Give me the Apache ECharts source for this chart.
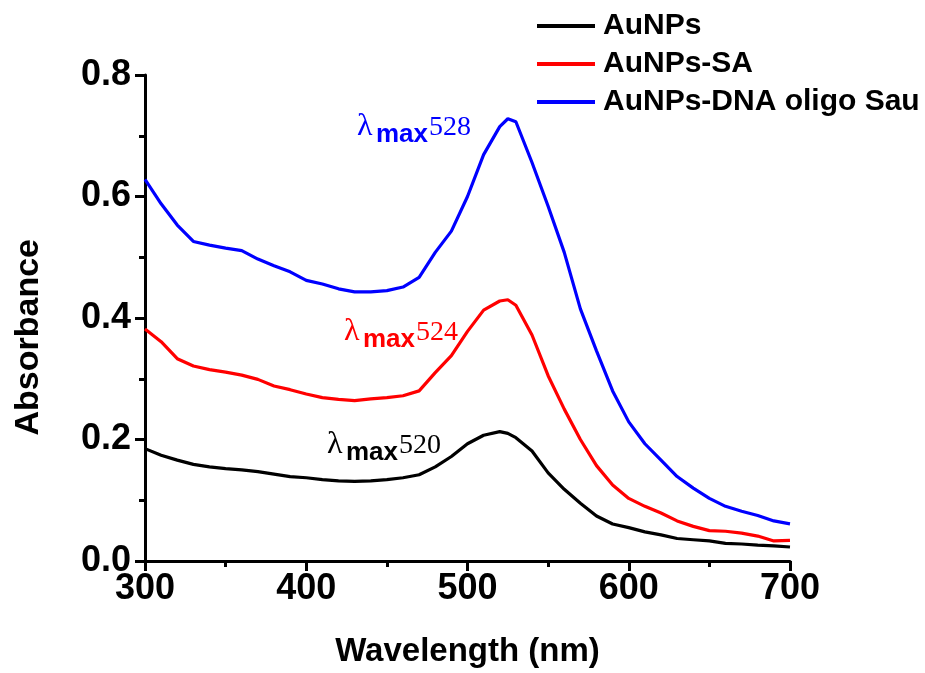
<!DOCTYPE html>
<html>
<head>
<meta charset="utf-8">
<script src="https://cdn.jsdelivr.net/npm/echarts@6/dist/echarts.min.js"></script>
<style>
html,body{margin:0;padding:0;background:#fff;}
#chart{width:925px;height:673px;}
</style>
</head>
<body>
<div id="chart"></div>
<script>
// Wavelength (nm)
var wavelengths = [300,310,320,330,340,350,360,370,380,390,400,410,420,430,440,450,460,470,480,490,500,510,520,525,530,540,550,560,570,580,590,600,610,620,630,640,650,660,670,680,690,700];
// Absorbance values
var auNPs = [0.185,0.174,0.166,0.159,0.155,0.152,0.150,0.147,0.143,0.139,0.137,0.134,0.132,0.131,0.132,0.134,0.137,0.142,0.155,0.172,0.193,0.207,0.213,0.210,0.203,0.181,0.145,0.118,0.095,0.074,0.061,0.055,0.048,0.043,0.037,0.035,0.033,0.029,0.028,0.026,0.025,0.023];
var auNPsSA = [0.382,0.361,0.333,0.321,0.315,0.311,0.306,0.299,0.288,0.282,0.275,0.269,0.266,0.264,0.267,0.269,0.272,0.280,0.310,0.338,0.378,0.413,0.428,0.430,0.421,0.372,0.305,0.250,0.200,0.157,0.125,0.103,0.090,0.079,0.066,0.057,0.050,0.049,0.046,0.041,0.033,0.034];
var auNPsDNA = [0.628,0.588,0.553,0.526,0.520,0.515,0.511,0.497,0.486,0.476,0.462,0.456,0.448,0.443,0.443,0.445,0.451,0.467,0.508,0.543,0.600,0.669,0.715,0.728,0.723,0.656,0.584,0.508,0.415,0.346,0.280,0.229,0.193,0.166,0.139,0.120,0.103,0.090,0.082,0.075,0.066,0.061];

var seriesNames = ['AuNPs','AuNPs-SA','AuNPs-DNA oligo Sau'];
var seriesColors = ['#000000','#ff0000','#0000ff'];
var seriesValues = [auNPs, auNPsSA, auNPsDNA];
var peakLabels = ['520','524','528'];

var xTicks = {min:300, max:700, interval:100};
var yTicks = {min:0, max:0.8, interval:0.2};

var SANS = '"Liberation Sans", Arial, Helvetica, sans-serif';
var SERIF = '"Liberation Serif", "Times New Roman", serif';

function pairs(vals){
  return wavelengths.map(function(w,i){ return [w, vals[i]]; });
}

var chart = echarts.init(document.getElementById('chart'), null, {renderer:'canvas'});

var series = seriesNames.map(function(n,i){
  return {
    name: n,
    type: 'line',
    data: pairs(seriesValues[i]),
    showSymbol: false,
    symbol: 'none',
    smooth: false,
    lineStyle: {color: seriesColors[i], width: 3.2},
    itemStyle: {color: seriesColors[i]},
    animation: false,
    z: 3 - i
  };
});

function lambdaLabel(left, top, color, num){
  return [
    {type:'text', left:left, top:top-2, style:{text:'λ', font:'32px ' + SERIF, fill:color}},
    {type:'text', left:left+19, top:top+9, style:{text:'max', font:'bold 26px ' + SANS, fill:color}},
    {type:'text', left:left+72, top:top+1, style:{text:num, font:'28px ' + SERIF, fill:color}}
  ];
}

var graphics = []
  .concat(lambdaLabel(327, 431, seriesColors[0], peakLabels[0]))
  .concat(lambdaLabel(344, 318, seriesColors[1], peakLabels[1]))
  .concat(lambdaLabel(357, 113, seriesColors[2], peakLabels[2]));
graphics.push({
  type:'text', left: 12, top: 239, rotation: Math.PI/2,
  style:{text:'Absorbance', font:'bold 34px ' + SANS, fill:'#000'}
});

var option = {
  backgroundColor: '#ffffff',
  animation: false,
  grid: {left:145, right:135, top:75, bottom:110, containLabel:false},
  legend: {
    orient: 'vertical',
    left: 532, top: 6,
    itemWidth: 58, itemHeight: 4,
    itemGap: 8,
    icon: 'rect',
    textStyle: {fontFamily: SANS, fontWeight:'bold', fontSize: 30, color:'#000', padding:[0,0,0,3]},
    data: seriesNames
  },
  xAxis: {
    type: 'value',
    min: xTicks.min, max: xTicks.max, interval: xTicks.interval,
    name: 'Wavelength (nm)',
    nameLocation: 'middle',
    nameGap: 74,
    nameTextStyle: {fontFamily: SANS, fontWeight:'bold', fontSize: 33, color:'#000'},
    axisLine: {show:true, onZero:false, lineStyle:{color:'#000', width:3}},
    axisTick: {show:true, inside:false, length:10, lineStyle:{color:'#000', width:3}},
    minorTick: {show:true, splitNumber:2, length:6, lineStyle:{color:'#000', width:3}},
    axisLabel: {fontFamily: SANS, fontWeight:'bold', fontSize: 36, color:'#000', margin: 10},
    splitLine: {show:false}
  },
  yAxis: {
    type: 'value',
    min: yTicks.min, max: yTicks.max, interval: yTicks.interval,
    axisLine: {show:true, lineStyle:{color:'#000', width:3}},
    axisTick: {show:true, inside:false, length:10, lineStyle:{color:'#000', width:3}},
    minorTick: {show:true, splitNumber:2, length:6, lineStyle:{color:'#000', width:3}},
    axisLabel: {fontFamily: SANS, fontWeight:'bold', fontSize: 36, color:'#000', margin: 14,
      formatter: function(v){ return v.toFixed(1); }},
    splitLine: {show:false}
  },
  graphic: graphics,
  series: series
};
chart.setOption(option);
</script>
</body>
</html>
